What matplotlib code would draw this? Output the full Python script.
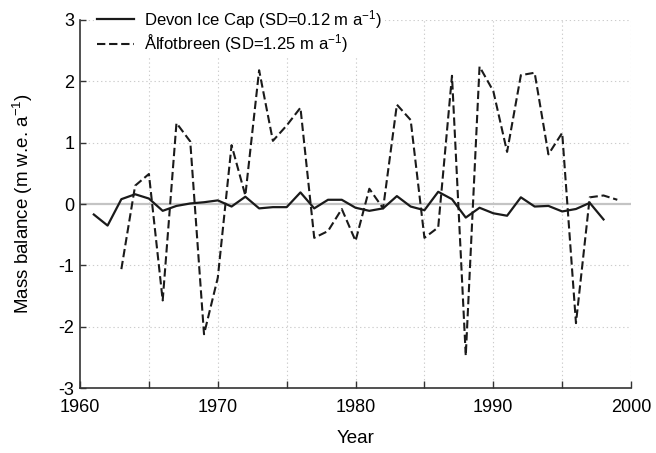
import numpy as np
import matplotlib

matplotlib.use("Agg")
import matplotlib.pyplot as plt

plt.rcParams["font.family"] = ["Liberation Sans", "DejaVu Sans"]
plt.rcParams["mathtext.fontset"] = "custom"
plt.rcParams["mathtext.rm"] = "Liberation Sans"
plt.rcParams["mathtext.it"] = "Liberation Sans"
plt.rcParams["axes.unicode_minus"] = False

devon_years = list(range(1961, 1999))
devon_mb = [-0.17, -0.35, 0.08, 0.16, 0.09, -0.11, -0.03, 0.01, 0.03, 0.06,
            -0.04, 0.12, -0.07, -0.05, -0.05, 0.19, -0.07, 0.07, 0.07, -0.06,
            -0.11, -0.07, 0.13, -0.04, -0.10, 0.20, 0.08, -0.22, -0.06, -0.15,
            -0.19, 0.11, -0.04, -0.03, -0.12, -0.08, 0.02, -0.25]

alf_years = list(range(1963, 2000))
alf_mb = [-1.06, 0.30, 0.49, -1.57, 1.32, 1.02, -2.12, -1.20, 0.96, 0.14,
          2.18, 1.03, 1.28, 1.57, -0.55, -0.44, -0.08, -0.60, 0.25, -0.07,
          1.62, 1.37, -0.55, -0.38, 2.09, -2.47, 2.24, 1.84, 0.85, 2.10,
          2.14, 0.81, 1.16, -1.94, 0.11, 0.14, 0.07]

fig = plt.figure(figsize=(6.56, 4.53), dpi=100)
ax = fig.add_axes([0.122, 0.143, 0.840, 0.813])

ax.axhline(0, color="#c4c4c4", lw=1.6, zorder=1)
for x in range(1965, 2001, 5):
    ax.axvline(x, color="#cccccc", lw=0.8, ls=(0, (1.2, 2.5)), zorder=0)
for y in (-2, -1, 1, 2, 3):
    ax.axhline(y, color="#cccccc", lw=0.8, ls=(0, (1.2, 2.5)), zorder=0)

ax.plot(devon_years, devon_mb, color="#1a1a1a", lw=1.6,
        label=r"Devon Ice Cap (SD=0.12 m a$^{\mathregular{-1}}$)", zorder=3)
ax.plot(alf_years, alf_mb, color="#1a1a1a", lw=1.5, ls=(0, (4, 1.8)),
        label=r"Ålfotbreen (SD=1.25 m a$^{\mathregular{-1}}$)", zorder=3)

ax.set_xlim(1960, 2000)
ax.set_ylim(-3, 3)
ax.set_xticks(range(1960, 2001, 10))
ax.set_xticks(range(1960, 2001, 5), minor=True)
ax.set_yticks(range(-3, 4))
ax.tick_params(axis="both", which="both", direction="in", labelsize=13,
               color="#333333", width=1.0)
ax.tick_params(axis="x", which="major", length=5, pad=8)
ax.tick_params(axis="x", which="minor", length=5)
ax.tick_params(axis="y", length=4, pad=4)
for s in ("top", "right"):
    ax.spines[s].set_visible(False)
for s in ("left", "bottom"):
    ax.spines[s].set_color("#333333")
    ax.spines[s].set_linewidth(1.2)

ax.set_xlabel("Year", fontsize=13.5, labelpad=10)
ax.set_ylabel(r"Mass balance (m w.e. a$^{\mathregular{-1}}$)", fontsize=13.5,
              labelpad=17)

leg = ax.legend(loc="upper left", bbox_to_anchor=(0.01, 1.065), fontsize=12,
                handlelength=2.2, handletextpad=0.6, labelspacing=0.12,
                borderpad=0.2, frameon=True, fancybox=False)
leg.get_frame().set_facecolor("white")
leg.get_frame().set_edgecolor("none")
leg.get_frame().set_alpha(1.0)
leg.set_zorder(5)

fig.savefig("out.png", dpi=100)
